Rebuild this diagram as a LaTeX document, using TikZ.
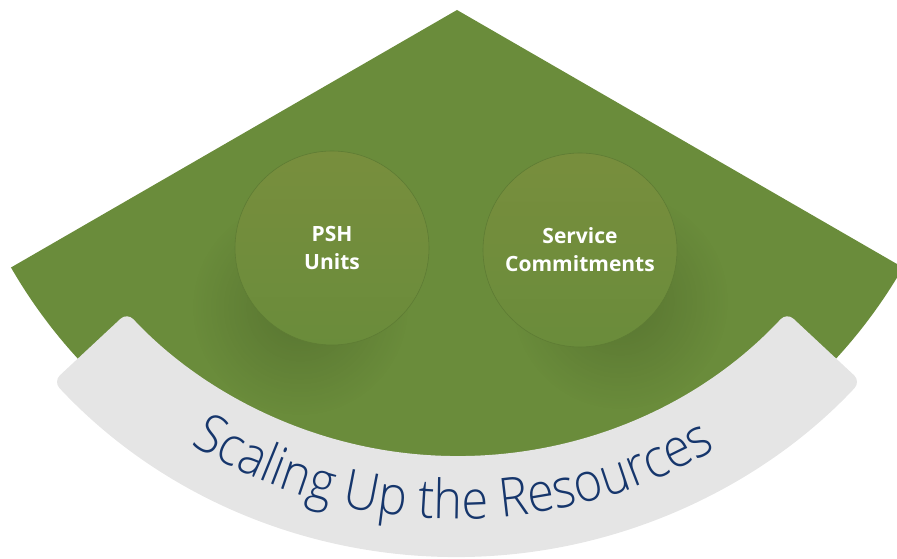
\documentclass[tikz,border=0pt]{standalone}
\usepackage{fontspec}
\IfFontExistsTF{Open Sans}{\setmainfont{Open Sans}}{\setmainfont{Liberation Sans}}
\IfFontExistsTF{Open Sans Light}{\newfontfamily\titlefont[FakeStretch=0.9]{Open Sans Light}}{\newfontfamily\titlefont[FakeStretch=0.9]{Open Sans}}
\usetikzlibrary{calc,decorations.text,fadings}
\tikzfading[name=softfade, inner color=transparent!0, outer color=transparent!100]
\definecolor{leaf}{RGB}{106,140,59}
\definecolor{leaftop}{RGB}{120,142,61}
\definecolor{leafedge}{RGB}{94,124,52}
\definecolor{navy}{RGB}{22,54,108}
\definecolor{band}{RGB}{229,229,229}
\tikzset{
  bubble/.style={circle, minimum size=194pt, inner sep=0pt, top color=leaftop, bottom color=leaf,
     draw=leafedge, line width=0.6pt, text=white, align=center,
     font=\bfseries\fontsize{21}{28}\selectfont},
  softshadow/.style={fill=black, fill opacity=0.17, path fading=softfade}
}
\begin{document}
\begin{tikzpicture}[x=1pt,y=1pt]
\useasboundingbox (0,0) rectangle (897,559);
\clip (0,0) rectangle (897,559);
\coordinate (G) at (457,549);
\coordinate (B) at (457,554);
% green sector
\fill[leaf] (G) -- ++(-150:515pt) arc[start angle=-150, end angle=-30, radius=515pt] -- cycle;
% shadows
\fill[softshadow] (300,252) circle[radius=108pt];
\fill[softshadow] (620,258) circle[radius=108pt];
% circles
\node[bubble] (psh) at (332,311) {PSH\\Units};
\node[bubble] (svc) at (580,309) {Service\\Commitments};
% gray band
\fill[band, rounded corners=9pt] ($(B)+(-137:552pt)$) arc[start angle=-137, end angle=-43, radius=552pt]
   -- ($(B)+(-43:451pt)$) arc[start angle=-43, end angle=-137, radius=451pt] -- cycle;
% curved title
\path[decorate, decoration={text along path, text align=center,
   text={|\titlefont\fontsize{54}{60}\selectfont\color{navy}|Scaling Up the Resources}}]
   ($(B)+(-123:514pt)$) arc[start angle=-123, end angle=-58, radius=514pt];
\end{tikzpicture}
\end{document}
